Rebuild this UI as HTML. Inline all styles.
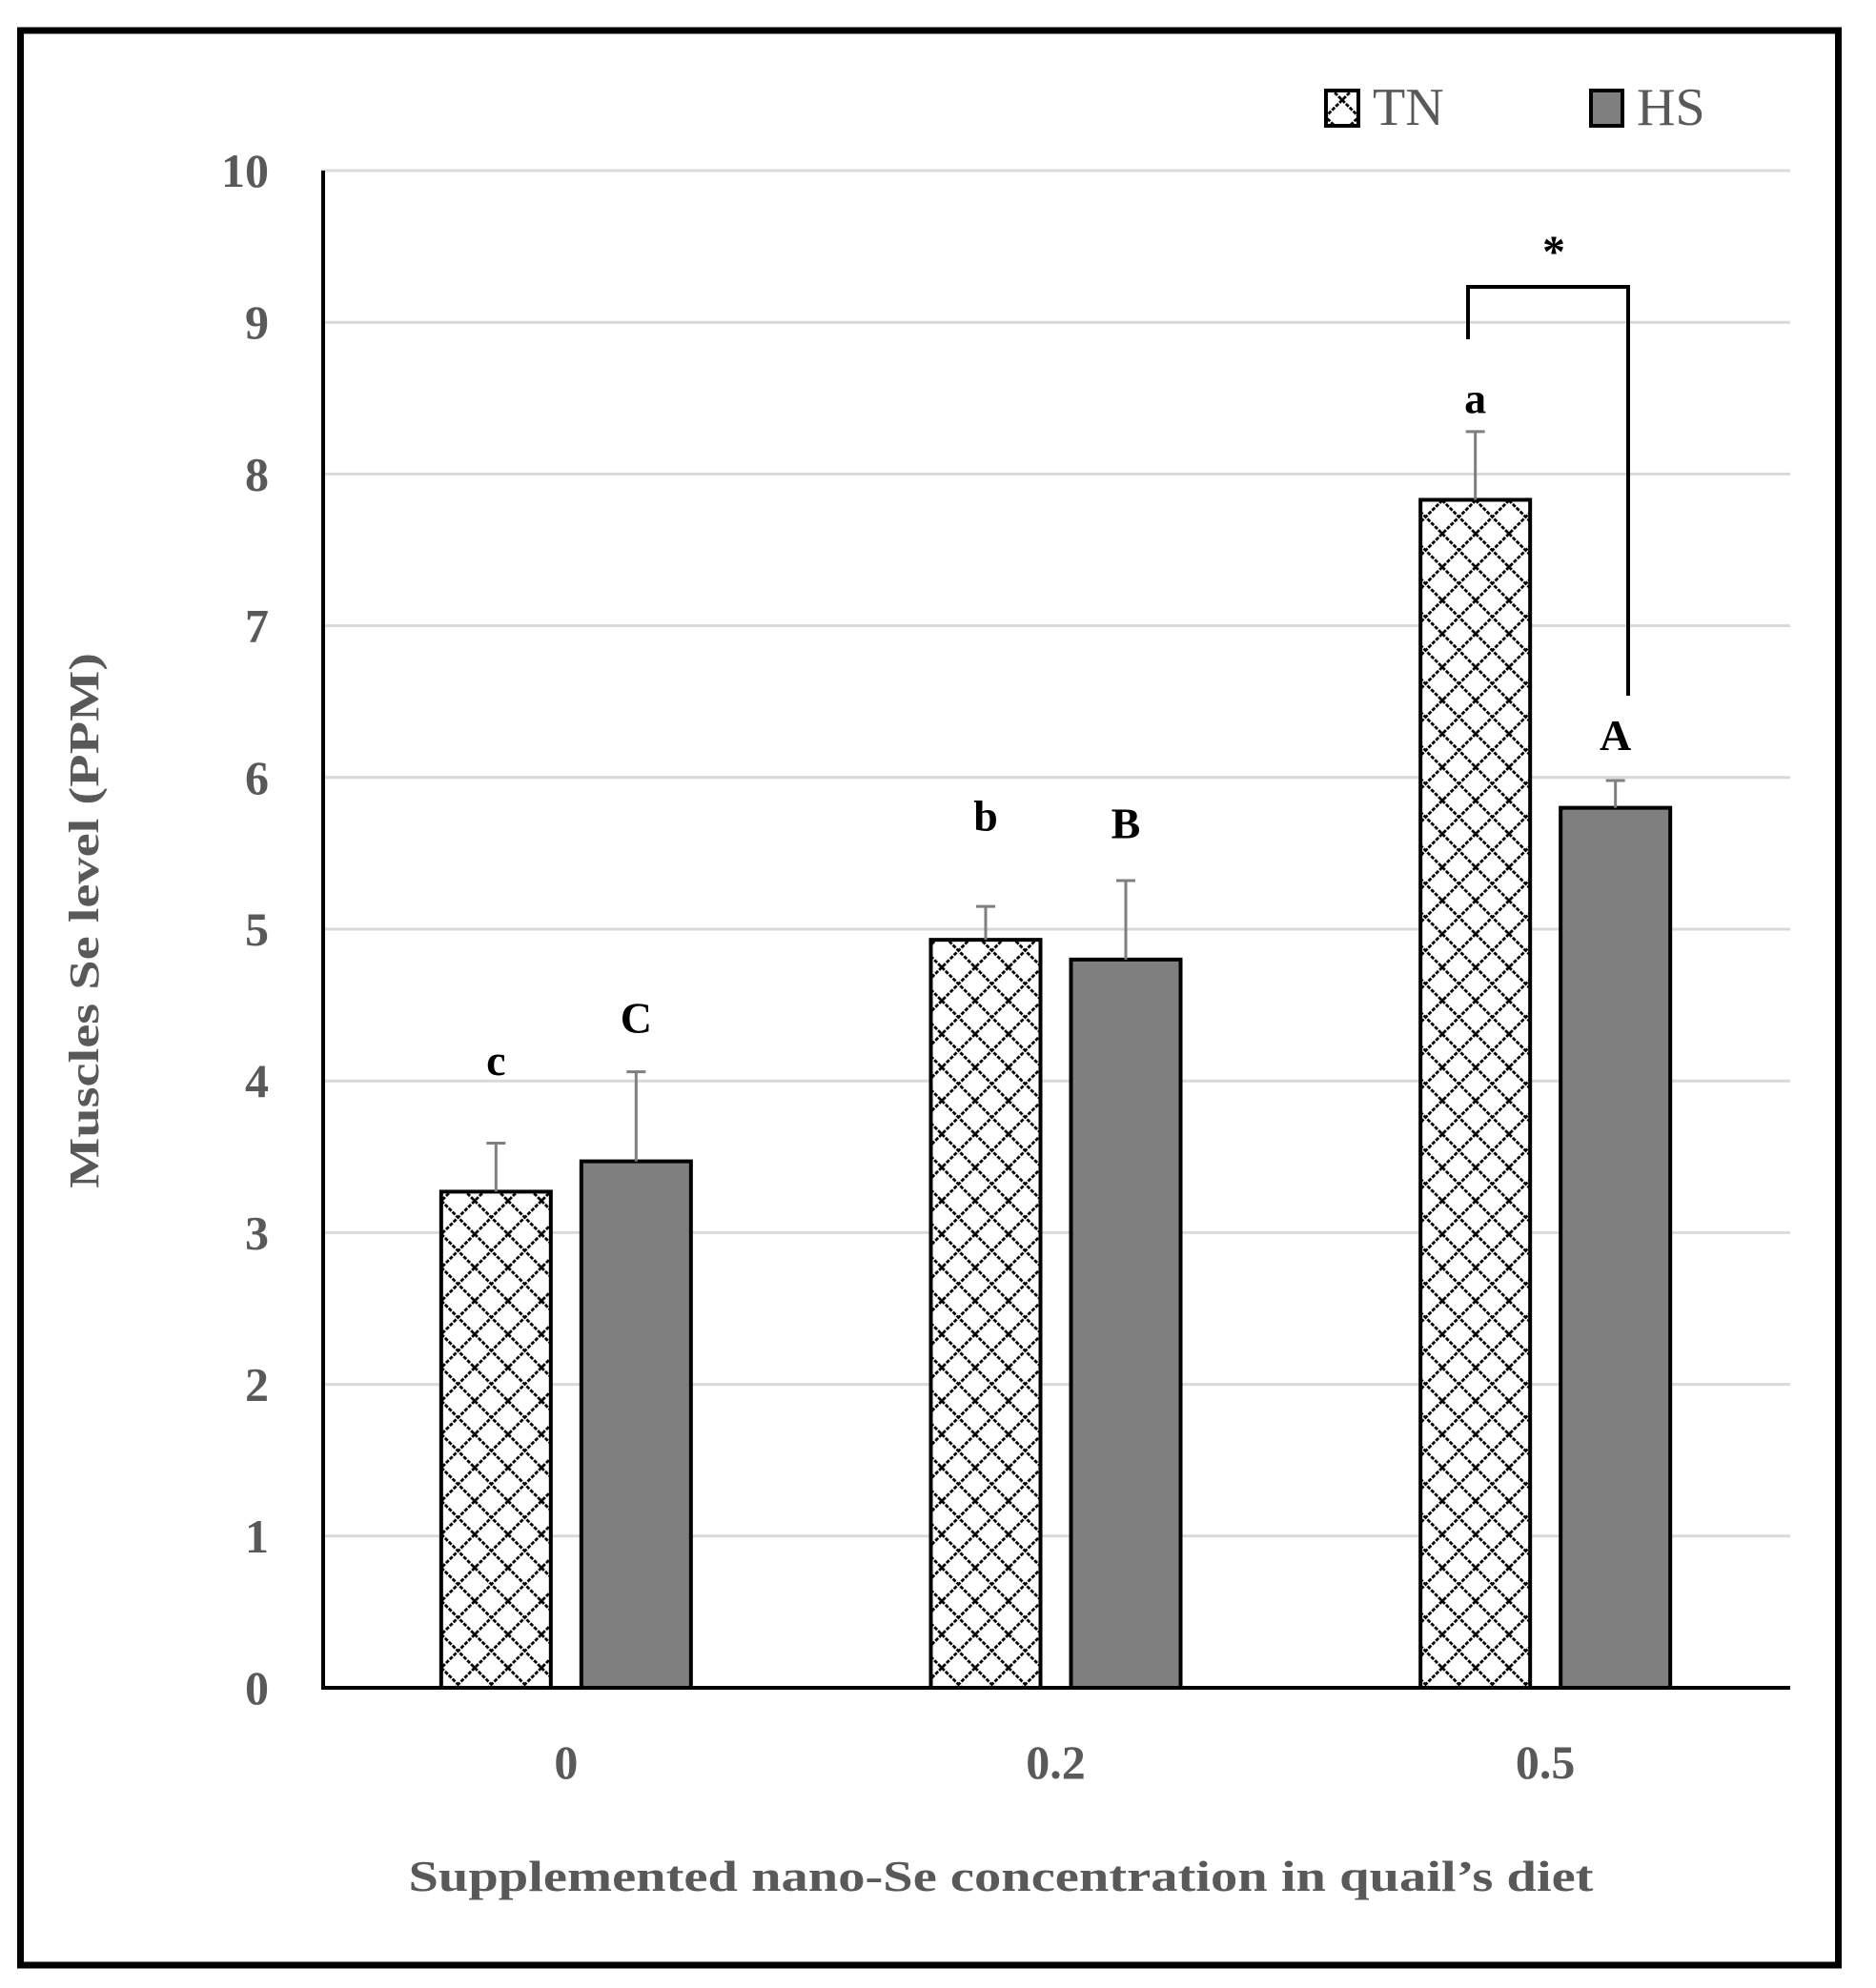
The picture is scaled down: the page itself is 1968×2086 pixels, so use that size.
<!DOCTYPE html>
<html><head><meta charset="utf-8"><style>
html,body{margin:0;padding:0;background:#fff;}
svg{display:block;font-family:"Liberation Serif",serif;}
</style></head><body>
<svg id="chart" width="1968" height="2086" viewBox="0 0 1968 2086" xmlns="http://www.w3.org/2000/svg">
<defs>
<pattern id="hatch" patternUnits="userSpaceOnUse" width="35" height="35" x="463" y="0">
<rect width="35" height="35" fill="#fff"/>
<path d="M0,0 L35,35 M35,0 L0,35 M-5,30 L5,40 M30,-5 L40,5 M-5,5 L5,-5 M30,40 L40,30" stroke="#000" stroke-width="2.8" stroke-dasharray="4,1.5"/>
</pattern>
</defs>
<rect x="21.5" y="32" width="1907" height="2030" fill="#fff" stroke="#000" stroke-width="7"/>
<g id="grid"></g>
<g id="bars"></g>
<g id="labels"></g>
<line x1="339" y1="179" x2="339" y2="1773" stroke="#000" stroke-width="4"/>
<line x1="337" y1="1771" x2="1878" y2="1771" stroke="#000" stroke-width="4"/>
<text x="93" y="966" transform="rotate(-90 93 966)" text-anchor="middle" dominant-baseline="middle" font-size="44" font-weight="bold" fill="#595959" textLength="562" lengthAdjust="spacingAndGlyphs">Muscles Se level (PPM)</text>
<text x="1050" y="1984" text-anchor="middle" font-size="46" font-weight="bold" fill="#595959" textLength="1243" lengthAdjust="spacingAndGlyphs">Supplemented nano-Se concentration in quail’s diet</text>
<g>
<rect x="1391" y="95" width="34" height="37" fill="url(#hatch)" stroke="#000" stroke-width="4"/>
<text x="1440" y="131" font-size="56" fill="#595959">TN</text>
<rect x="1669" y="95" width="33" height="37" fill="#7f7f7f" stroke="#000" stroke-width="4"/>
<text x="1717" y="131" font-size="56" fill="#595959">HS</text>
</g>
<g>
<path d="M1540,356 L1540,301 L1708,301 L1708,730" fill="none" stroke="#000" stroke-width="4"/>
<text x="1630" y="280" text-anchor="middle" font-size="48" font-weight="bold" fill="#000">*</text>
</g>
</svg>
<script>
const categories = ["0", "0.2", "0.5"];
const tnValues = [3.27, 4.93, 7.83];
const hsValues = [3.47, 4.80, 5.80];
const tnErrors = [0.32, 0.22, 0.45];
const hsErrors = [0.59, 0.52, 0.18];
const tnLetters = ["c", "b", "a"];
const hsLetters = ["C", "B", "A"];
const tnLetterLevel = [4.04, 5.65, 8.40];
const hsLetterLevel = [4.32, 5.60, 6.18];
const yTicks = [0,1,2,3,4,5,6,7,8,9,10];

const NS = "http://www.w3.org/2000/svg";
const plotL = 337, plotR = 1878, y0 = 1771, yTop = 179;
const yMax = 10;
function yScale(v){ return y0 - (v / yMax) * (y0 - yTop); }
const catW = (plotR - plotL) / categories.length;
function xCenter(i){ return plotL + catW * (i + 0.5); }
const barW = 115, gap = 32;

function mk(tag, attrs, parent){
  const el = document.createElementNS(NS, tag);
  for (const k in attrs) el.setAttribute(k, attrs[k]);
  parent.appendChild(el);
  return el;
}
const grid = document.getElementById('grid');
const bars = document.getElementById('bars');
const labels = document.getElementById('labels');

yTicks.forEach(t => {
  const y = yScale(t);
  if (t > 0) {
    const ln = mk('line', {x1: plotL, x2: plotR, y1: y, y2: y, stroke: '#d9d9d9', 'stroke-width': 3}, grid);
    
    
  }
  const tx = mk('text', {x: 282, y: y + 17, 'text-anchor': 'end', 'font-size': 50, 'font-weight': 'bold', fill: '#595959'}, labels);
  tx.textContent = t;
  
  
});

categories.forEach((c, i) => {
  const cx = xCenter(i);
  const tl = mk('text', {x: cx, y: 1866, 'text-anchor': 'middle', 'font-size': 50, 'font-weight': 'bold', fill: '#595959'}, labels);
  tl.textContent = c;
  
  

  const series = [
    {v: tnValues[i], e: tnErrors[i], x: cx - gap/2 - barW, fill: 'url(#hatch)', name: 'bar-tn', letter: tnLetters[i], ly: tnLetterLevel[i]},
    {v: hsValues[i], e: hsErrors[i], x: cx + gap/2, fill: '#7f7f7f', name: 'bar-hs', letter: hsLetters[i], ly: hsLetterLevel[i]}
  ];
  series.forEach(s => {
    const top = yScale(s.v);
    const r = mk('rect', {x: s.x, y: top, width: barW, height: y0 - top, fill: s.fill, stroke: '#000', 'stroke-width': 4}, bars);
    
    
    const mx = s.x + barW / 2;
    const et = yScale(s.v + s.e);
    const ev = mk('line', {x1: mx, x2: mx, y1: top, y2: et, stroke: '#7f7f7f', 'stroke-width': 3}, bars);
    
    
    const ec = mk('line', {x1: mx - 10, x2: mx + 10, y1: et, y2: et, stroke: '#7f7f7f', 'stroke-width': 3}, bars);
    
    
    const lt = mk('text', {x: mx, y: yScale(s.ly), 'text-anchor': 'middle', 'font-size': 46, 'font-weight': 'bold', fill: '#000'}, labels);
    lt.textContent = s.letter;
    
    
  });
});
</script>
</body></html>
